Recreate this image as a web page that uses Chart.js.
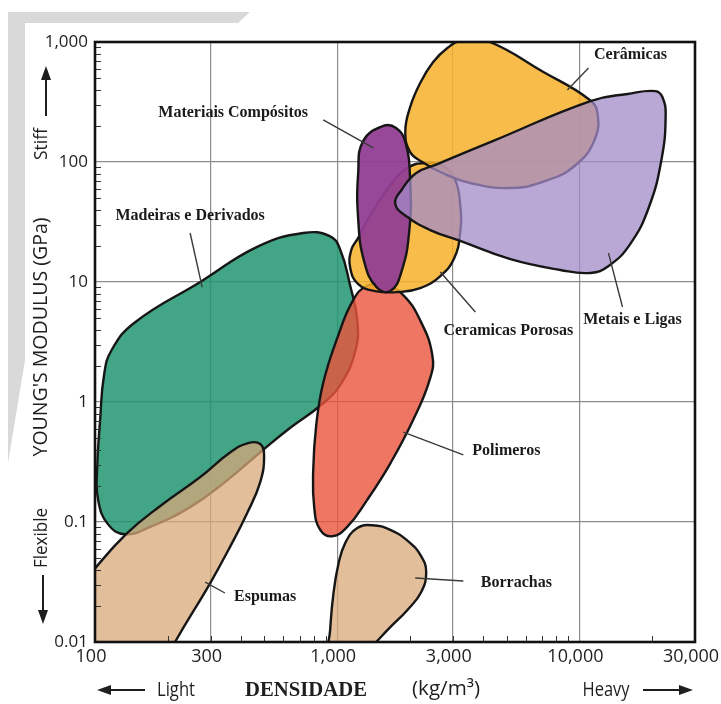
<!DOCTYPE html>
<html>
<head>
<meta charset="utf-8">
<script src="https://cdn.jsdelivr.net/npm/chart.js@4.4.1/dist/chart.umd.min.js"></script>
<style>
  html, body { margin: 0; background: #fff; }
  #wrap { width: 721px; height: 704px; position: relative; }
</style>
</head>
<body>
<div id="wrap"><canvas id="chart"></canvas></div>
<script>
const xTicks = [100, 300, 1000, 3000, 10000, 30000];
const yTicks = [0.01, 0.1, 1, 10, 100, 1000];

// outlines of each material family: [density kg/m3, Young's modulus GPa]
const madeiras = [[724,25.6],[935,24],[1030,18.5],[1130,9.4],[1210,4.8],[1190,2.7],[1030,1.39],[850,0.93],[640,0.61],[495,0.4],[344,0.215],[247,0.133],[169,0.091],[133,0.079],[113,0.096],[103,0.153],[102,0.27],[105,0.71],[109,1.68],[117,2.7],[146,4.6],[272,10],[467,19.6]];
const espumas = [[79,0.022],[100,0.041],[136,0.081],[186,0.136],[272,0.237],[361,0.38],[429,0.455],[481,0.447],[499,0.36],[481,0.215],[425,0.119],[361,0.062],[299,0.031],[214,0.01],[186,0.0058],[79,0.0058]];
const polimeros = [[1330,9.3],[1580,9.4],[1860,7.9],[2200,4.8],[2470,2.46],[2420,1.58],[2060,0.71],[1660,0.31],[1330,0.153],[1100,0.091],[953,0.076],[851,0.086],[804,0.131],[796,0.27],[819,0.64],[875,1.44],[1000,3.4],[1165,7.1]];
const borrachas = [[1210,0.089],[1395,0.094],[1656,0.086],[1965,0.069],[2220,0.052],[2330,0.038],[2220,0.026],[1950,0.0185],[1656,0.0133],[1370,0.0089],[1130,0.0061],[918,0.0061],[935,0.0126],[963,0.0246],[1010,0.044],[1080,0.067]];
const porosas = [[2310,98],[2770,91],[3070,71],[3220,44],[3220,26],[3040,15.8],[2665,11.2],[2200,8.9],[1787,8.25],[1436,8.4],[1221,9.6],[1132,13.1],[1143,18.5],[1221,23.3],[1369,36],[1656,64],[1947,89]];
const ceramicas = [[3285,1040],[4170,1020],[7100,562],[10900,335],[11870,256],[11530,152],[9630,94],[7240,69.5],[5190,60.7],[3540,66.8],[2665,82.5],[2245,100],[2000,121],[1910,178],[2000,287],[2200,455],[2490,681],[2850,891]];
const compositos = [[1550,200],[1750,192],[1910,147],[2000,71],[1985,27],[1840,12.1],[1656,8.4],[1450,9.1],[1293,14.7],[1221,33],[1221,82],[1281,150]];
const metais = [[1737,44.7],[1856,59.6],[2120,81],[2590,96],[4410,150],[11100,322],[15800,369],[20600,390],[22000,348],[22700,246],[21800,104],[19300,41.4],[16200,20.7],[13200,13.6],[11100,11.9],[8350,12.6],[5190,15.5],[3220,22],[2420,27.1],[1950,34.8]];

// bottom to top
const regionSeries = [madeiras, espumas, polimeros, borrachas, porosas, ceramicas, compositos, metais];
const regionNames = ["Madeiras e Derivados", "Espumas", "Polimeros", "Borrachas", "Ceramicas Porosas", "Cerâmicas", "Materiais Compósitos", "Metais e Ligas"];
const regionFill = ["rgba(33,150,113,0.85)", "rgba(216,168,122,0.75)", "rgba(236,84,61,0.8)", "rgba(216,168,122,0.75)",
  "rgba(247,176,43,0.85)", "rgba(247,176,43,0.85)", "rgba(146,62,146,0.95)", "rgba(162,139,200,0.75)"];

const labelText = ["Materiais Compósitos", "Madeiras e Derivados", "Cerâmicas", "Ceramicas Porosas", "Metais e Ligas", "Polimeros", "Borrachas", "Espumas"];
const labelAt = [[372,256],[247,35.5],[16240,779],[5089,3.91],[16560,4.82],[4991,0.39],[5491,0.031],[504,0.0237]];
const leaders = [[[875,224],[1409,131]],[[247,25.6],[277,9.08]],[[10900,607],[8920,398]],[[2665,12.1],[3718,5.62]],
  [[13180,17.4],[15060,6.19]],[[1874,0.562],[3316,0.362]],[[2100,0.0341],[3316,0.0322]],[[285,0.0316],[344,0.0256]]];

// closed smooth outlines: a line controller that loops like the radar one
const LineCtrl = Chart.registry.getController("line");
class RegionController extends LineCtrl {
  update(mode) {
    const line = this._cachedMeta.dataset;
    if (line) { line._loop = true; line._fullLoop = true; }
    super.update(mode);
  }
}
RegionController.id = "region";
RegionController.defaults = LineCtrl.defaults;
Chart.register(RegionController);

const toXY = pts => pts.map(([x, y]) => ({ x, y }));

const datasets = regionSeries.map((pts, i) => ({
  type: "region", label: regionNames[i], data: toXY(pts),
  backgroundColor: regionFill[i], borderColor: "#161616", borderWidth: 2.4,
  fill: "shape", tension: 0.45, capBezierPoints: false, borderJoinStyle: "round",
  pointRadius: 0, pointHoverRadius: 0, order: regionSeries.length - i, clip: 0
}));
leaders.forEach(l => datasets.push({
  type: "scatter", data: toXY(l), showLine: true, fill: false,
  borderColor: "#3a3a3a", borderWidth: 1.4, pointRadius: 0, order: 0
}));

function fitText(ctx, text, x, y, w, font, rot) {
  ctx.save();
  ctx.font = font;
  ctx.translate(x, y);
  if (rot) ctx.rotate(rot);
  ctx.scale(w / ctx.measureText(text).width, 1);
  ctx.textAlign = "center";
  ctx.textBaseline = "middle";
  ctx.fillText(text, 0, 0);
  ctx.restore();
}

function arrow(ctx, x1, y1, x2, y2) {
  const a = Math.atan2(y2 - y1, x2 - x1), h = 14, w = 5;
  ctx.lineWidth = 2;
  ctx.beginPath();
  ctx.moveTo(x1, y1);
  ctx.lineTo(x2 - h * 0.7 * Math.cos(a), y2 - h * 0.7 * Math.sin(a));
  ctx.stroke();
  ctx.beginPath();
  ctx.moveTo(x2, y2);
  ctx.lineTo(x2 - h * Math.cos(a) + w * Math.sin(a), y2 - h * Math.sin(a) - w * Math.cos(a));
  ctx.lineTo(x2 - h * Math.cos(a) - w * Math.sin(a), y2 - h * Math.sin(a) + w * Math.cos(a));
  ctx.closePath();
  ctx.fill();
}

const pageDecor = {
  id: "pageDecor",
  beforeDraw(chart) {
    const ctx = chart.ctx;
    ctx.save();
    ctx.fillStyle = "#d9d9d9";
    ctx.beginPath();
    ctx.moveTo(8, 12); ctx.lineTo(250, 12); ctx.lineTo(238, 23); ctx.lineTo(25, 23);
    ctx.lineTo(25, 360); ctx.lineTo(8, 463);
    ctx.closePath();
    ctx.fill();
    ctx.restore();
  }
};

const frameAndLabels = {
  id: "frameAndLabels",
  afterDatasetsDraw(chart) {
    const { ctx, chartArea: a, scales: { x, y } } = chart;
    ctx.save();
    // minor ticks
    ctx.strokeStyle = "#333";
    ctx.lineWidth = 1;
    ctx.beginPath();
    for (let d = 100; d < 30000; d *= 10) {
      for (let k = 2; k <= 9 && d * k < 30000; k++) {
        const px = Math.round(x.getPixelForValue(d * k)) + 0.5;
        ctx.moveTo(px, a.bottom); ctx.lineTo(px, a.bottom - 6);
      }
    }
    for (let d = 0.01; d < 999; d *= 10) {
      for (let k = 2; k <= 9; k++) {
        const py = Math.round(y.getPixelForValue(d * k)) + 0.5;
        ctx.moveTo(a.left, py); ctx.lineTo(a.left + 6, py);
      }
    }
    ctx.stroke();
    // frame
    ctx.strokeStyle = "#111";
    ctx.lineWidth = 2.6;
    ctx.strokeRect(a.left, a.top, a.right - a.left, a.bottom - a.top);
    // family labels
    ctx.fillStyle = "#1a1a1a";
    ctx.font = 'bold 16px "Liberation Serif", serif';
    ctx.textAlign = "center";
    ctx.textBaseline = "middle";
    labelText.forEach((t, i) => {
      ctx.fillText(t, x.getPixelForValue(labelAt[i][0]), y.getPixelForValue(labelAt[i][1]));
    });
    ctx.restore();
  }
};

const axisText = {
  id: "axisText",
  afterDraw(chart) {
    const ctx = chart.ctx;
    const sans = '"Open Sans", sans-serif';
    ctx.save();
    ctx.fillStyle = "#1e1e1e";
    ctx.strokeStyle = "#1e1e1e";
    fitText(ctx, "YOUNG'S MODULUS (GPa)", 41, 337, 239, "20px " + sans, -Math.PI / 2);
    fitText(ctx, "Stiff", 42, 144, 32, "19px " + sans, -Math.PI / 2);
    fitText(ctx, "Flexible", 42, 538, 60, "19px " + sans, -Math.PI / 2);
    arrow(ctx, 46, 116, 46, 66);
    arrow(ctx, 43, 575, 43, 624);
    fitText(ctx, "Light", 176, 690, 38, "20px " + sans);
    fitText(ctx, "Heavy", 606, 690, 47, "20px " + sans);
    fitText(ctx, "(kg/m³)", 446, 689, 68, "20px " + sans);
    fitText(ctx, "DENSIDADE", 306, 691, 122, 'bold 20px "Liberation Serif", serif');
    arrow(ctx, 145, 690, 97, 690);
    arrow(ctx, 643, 690, 693, 690);
    ctx.restore();
  }
};

const fmt = v => Number(v).toLocaleString("en-US");

new Chart(document.getElementById("chart"), {
  type: "scatter",
  data: { datasets },
  options: {
    responsive: true,
    maintainAspectRatio: false,
    animation: false,
    events: [],
    layout: { padding: { top: 42, right: 26, left: 0, bottom: 0 } },
    plugins: { legend: { display: false }, tooltip: { enabled: false } },
    scales: {
      x: {
        type: "logarithmic", min: 100, max: 30000,
        afterBuildTicks: s => { s.ticks = xTicks.map(v => ({ value: v })); },
        afterFit: s => { s.height = 62; s.paddingLeft = 0; s.paddingRight = 0; },
        grid: { color: "#8c8c8c", lineWidth: 1.2, drawTicks: false },
        border: { display: false },
        ticks: { callback: fmt, color: "#1e1e1e", padding: 4, labelOffset: -4, maxRotation: 0, autoSkip: false,
          font: { family: '"Open Sans", sans-serif', size: 18 } }
      },
      y: {
        type: "logarithmic", min: 0.01, max: 1000,
        afterBuildTicks: s => { s.ticks = yTicks.map(v => ({ value: v })); },
        afterFit: s => { s.width = 95; s.paddingTop = 0; s.paddingBottom = 0; },
        grid: { color: "#8c8c8c", lineWidth: 1.2, drawTicks: false },
        border: { display: false },
        ticks: { callback: fmt, color: "#1e1e1e", padding: 7, autoSkip: false,
          font: { family: '"Open Sans", sans-serif', size: 17 } }
      }
    }
  },
  plugins: [pageDecor, frameAndLabels, axisText]
});
</script>
</body>
</html>
